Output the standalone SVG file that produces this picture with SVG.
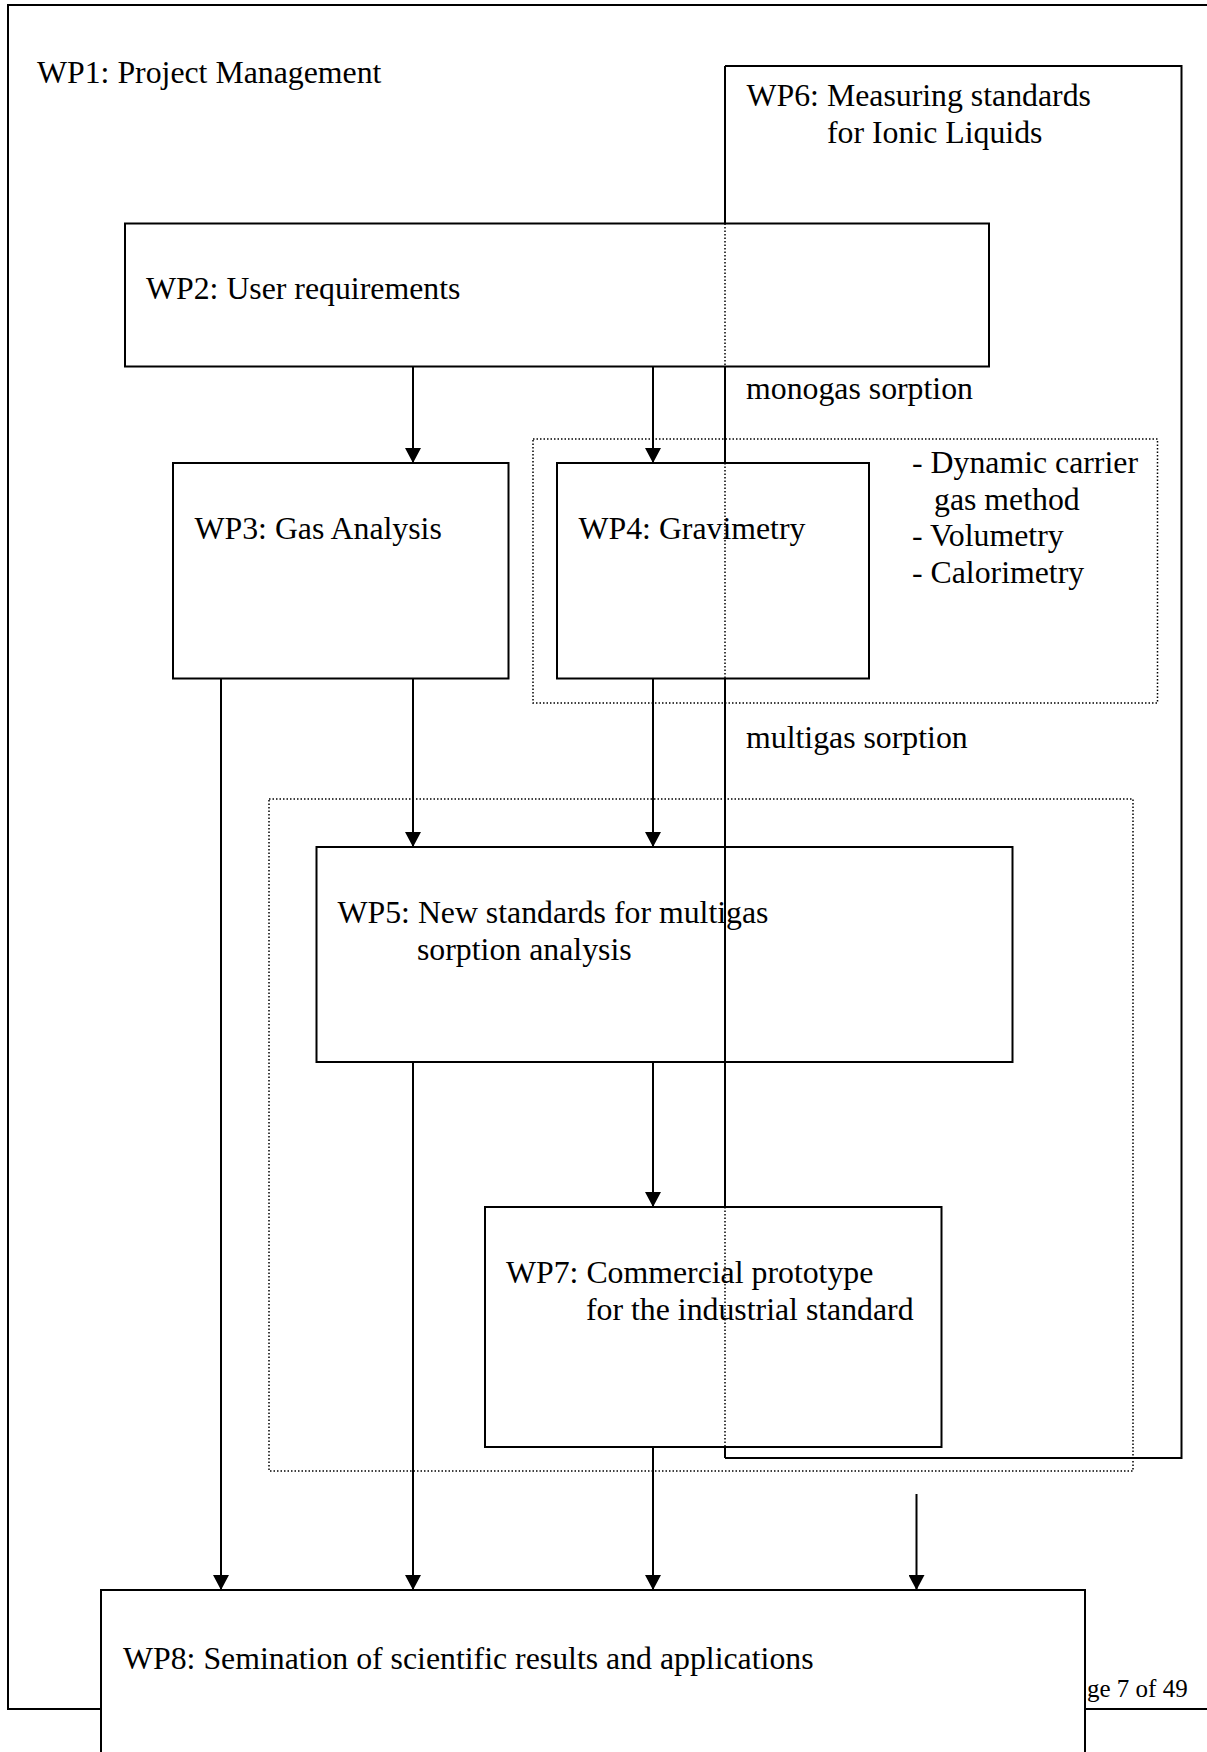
<svg xmlns="http://www.w3.org/2000/svg" width="1207" height="1752" viewBox="0 0 1207 1752">
<defs>
<style>
.box{fill:#fff;stroke:#000;stroke-width:2}
.open{fill:none;stroke:#000;stroke-width:2}
.dot{fill:none;stroke:#000;stroke-width:1.5;stroke-dasharray:1.5 2}
.con{fill:none;stroke:#000;stroke-width:2;marker-end:url(#arr)}
.t{font-family:"Liberation Serif","Times New Roman",serif;font-size:31.8px;fill:#000}
.f{font-family:"Liberation Serif","Times New Roman",serif;font-size:25px;fill:#000}
</style>
<marker id="arr" markerUnits="userSpaceOnUse" markerWidth="16" markerHeight="16" refX="15" refY="8" orient="auto">
<path d="M0,0 L15,8 L0,16 z" fill="#000"/>
</marker>
</defs>
<rect width="1207" height="1752" fill="#fff"/>
<g id="wp1">
<rect class="open" x="8" y="5" width="1230" height="1704"/>
<text class="t" x="37" y="83">WP1: Project Management</text>
</g>
<text class="f" x="1087" y="1697">ge 7 of 49</text>
<g id="wp2">
<rect class="box" x="125" y="223.5" width="864" height="143"/>
<text class="t" x="146" y="299">WP2: User requirements</text>
</g>
<g id="wp3">
<rect class="box" x="173" y="463" width="335.5" height="215.5"/>
<text class="t" x="194.5" y="539">WP3: Gas Analysis</text>
</g>
<g id="monogas">
<rect class="dot" x="533" y="439" width="624.5" height="264"/>
<text class="t" x="746" y="399">monogas sorption</text>
<text class="t" x="912" y="473">- Dynamic carrier</text>
<text class="t" x="934" y="510">gas method</text>
<text class="t" x="912" y="546">- Volumetry</text>
<text class="t" x="912" y="583">- Calorimetry</text>
</g>
<g id="wp4">
<rect class="box" x="557" y="463" width="312" height="215.5"/>
<text class="t" x="578.5" y="539">WP4: Gravimetry</text>
</g>
<g id="multigas">
<rect class="dot" x="269" y="799" width="864" height="672"/>
<text class="t" x="746" y="748">multigas sorption</text>
</g>
<g id="wp5">
<rect class="open" x="316.5" y="847" width="696" height="215"/>
<text class="t" x="337.5" y="923">WP5: New standards for multigas</text>
<text class="t" x="417" y="960">sorption analysis</text>
</g>
<g id="wp7">
<rect class="box" x="485" y="1207" width="456.5" height="240"/>
<text class="t" x="506" y="1283">WP7: Commercial prototype</text>
<text class="t" x="586" y="1320">for the industrial standard</text>
</g>
<g id="wp6">
<path class="open" d="M725,66 H1181.5 V1458 H725 M725,66 V223.5 M725,366.5 V463 M725,678.5 V1207 M725,1447 V1458"/>
<path class="dot" d="M725,223.5 V366.5 M725,463 V678.5 M725,1207 V1447"/>
<text class="t" x="746.5" y="106">WP6: Measuring standards</text>
<text class="t" x="827" y="143">for Ionic Liquids</text>
</g>
<g id="connectors">
<line class="con" x1="413" y1="366.5" x2="413" y2="463"/>
<line class="con" x1="653" y1="366.5" x2="653" y2="463"/>
<line class="con" x1="413" y1="678.5" x2="413" y2="847"/>
<line class="con" x1="653" y1="678.5" x2="653" y2="847"/>
<line class="con" x1="653" y1="1062" x2="653" y2="1207"/>
<line class="con" x1="221" y1="678.5" x2="221" y2="1590"/>
<line class="con" x1="413" y1="1062" x2="413" y2="1590"/>
<line class="con" x1="653" y1="1447" x2="653" y2="1590"/>
<line class="con" x1="916.5" y1="1494" x2="916.5" y2="1590"/>
</g>
<g id="wp8">
<rect class="box" x="101" y="1590" width="984" height="200"/>
<text class="t" x="123" y="1669">WP8: Semination of scientific results and applications</text>
</g>
</svg>
